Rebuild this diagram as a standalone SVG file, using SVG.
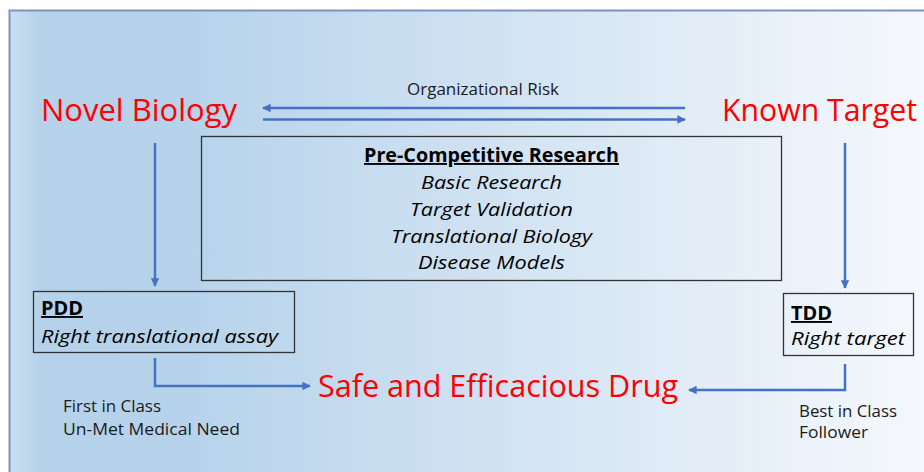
<svg xmlns="http://www.w3.org/2000/svg" width="924" height="472" viewBox="0 0 924 472">
  <defs>
    <linearGradient id="bg" x1="9" y1="0" x2="924" y2="0" gradientUnits="userSpaceOnUse">
      <stop offset="0" stop-color="#cbdff1"/>
      <stop offset="0.035" stop-color="#b5d2ea"/>
      <stop offset="0.2" stop-color="#b7d3eb"/>
      <stop offset="1" stop-color="#f5f8fc"/>
    </linearGradient>
    <marker id="head" viewBox="0 0 10 10" refX="9" refY="5" markerWidth="3.4" markerHeight="3.4" orient="auto" markerUnits="strokeWidth">
      <path d="M0,0 L10,5 L0,10 Z" fill="#4472c4"/>
    </marker>
    <style>
      .big { font-family: "Open Sans", "Noto Sans", sans-serif; font-size: 31px; fill: #ff0000; }
      .lbl { font-family: "Open Sans", "Noto Sans", sans-serif; font-size: 16px; fill: #1a1a1a; }
      .head { font-family: "Open Sans", "Noto Sans", sans-serif; font-size: 19px; font-weight: bold; fill: #000; text-decoration: underline; }
      .it { font-family: "Open Sans", "Noto Sans", sans-serif; font-size: 19px; font-style: italic; fill: #000; }
      .box { fill: none; stroke: #333; stroke-width: 1.3; }
      .conn { fill: none; stroke: #4472c4; stroke-width: 2.5; marker-end: url(#head); }
    </style>
  </defs>

  <!-- slide background with frame -->
  <rect x="0" y="0" width="924" height="472" fill="#ffffff"/>
  <rect x="9" y="10" width="930" height="480" fill="url(#bg)"/>
  <path d="M9.5,472 V10.5 H924" fill="none" stroke="#7b93bf" stroke-width="2"/>

  <g id="connectors">
    <line class="conn" x1="685" y1="108" x2="263" y2="108"/>
    <line class="conn" x1="263" y1="119.5" x2="685" y2="119.5"/>
    <line class="conn" x1="155" y1="143" x2="155" y2="286"/>
    <line class="conn" x1="845" y1="143" x2="845" y2="288"/>
    <polyline class="conn" points="155,358 155,386 310,386"/>
    <polyline class="conn" points="845,364 845,390 689,390"/>
  </g>

  <g id="novel-biology">
    <text class="big" x="41" y="121" textLength="196" lengthAdjust="spacingAndGlyphs">Novel Biology</text>
  </g>

  <g id="known-target">
    <text class="big" x="722" y="121" textLength="195" lengthAdjust="spacingAndGlyphs">Known Target</text>
  </g>

  <g id="organizational-risk">
    <text class="lbl" x="407" y="95" textLength="152" lengthAdjust="spacingAndGlyphs">Organizational Risk</text>
  </g>

  <g id="pre-competitive">
    <rect class="box" x="201.5" y="136.5" width="580" height="144"/>
    <text class="head" x="491.5" y="162" text-anchor="middle" textLength="255" lengthAdjust="spacingAndGlyphs">Pre-Competitive Research</text>
    <text class="it" x="491.5" y="189" text-anchor="middle" textLength="141" lengthAdjust="spacingAndGlyphs">Basic Research</text>
    <text class="it" x="491.5" y="216" text-anchor="middle" textLength="163" lengthAdjust="spacingAndGlyphs">Target Validation</text>
    <text class="it" x="491.5" y="243" text-anchor="middle" textLength="201" lengthAdjust="spacingAndGlyphs">Translational Biology</text>
    <text class="it" x="491.5" y="269" text-anchor="middle" textLength="147" lengthAdjust="spacingAndGlyphs">Disease Models</text>
  </g>

  <g id="pdd">
    <rect class="box" x="33.5" y="291.5" width="261" height="61"/>
    <text class="head" x="41" y="315" textLength="42" lengthAdjust="spacingAndGlyphs">PDD</text>
    <text class="it" x="41" y="343" textLength="237" lengthAdjust="spacingAndGlyphs">Right translational assay</text>
  </g>

  <g id="tdd">
    <rect class="box" x="783.5" y="293.5" width="130" height="62"/>
    <text class="head" x="791" y="320" textLength="41" lengthAdjust="spacingAndGlyphs">TDD</text>
    <text class="it" x="791" y="345" textLength="114" lengthAdjust="spacingAndGlyphs">Right target</text>
  </g>

  <g id="first-in-class">
    <text class="lbl" x="63" y="412" textLength="98" lengthAdjust="spacingAndGlyphs">First in Class</text>
    <text class="lbl" x="63" y="435" textLength="177" lengthAdjust="spacingAndGlyphs">Un-Met Medical Need</text>
  </g>

  <g id="best-in-class">
    <text class="lbl" x="799" y="417" textLength="98" lengthAdjust="spacingAndGlyphs">Best in Class</text>
    <text class="lbl" x="799" y="438" textLength="69" lengthAdjust="spacingAndGlyphs">Follower</text>
  </g>

  <g id="safe-drug">
    <text class="big" x="318" y="397" textLength="360" lengthAdjust="spacingAndGlyphs">Safe and Efficacious Drug</text>
  </g>
</svg>
